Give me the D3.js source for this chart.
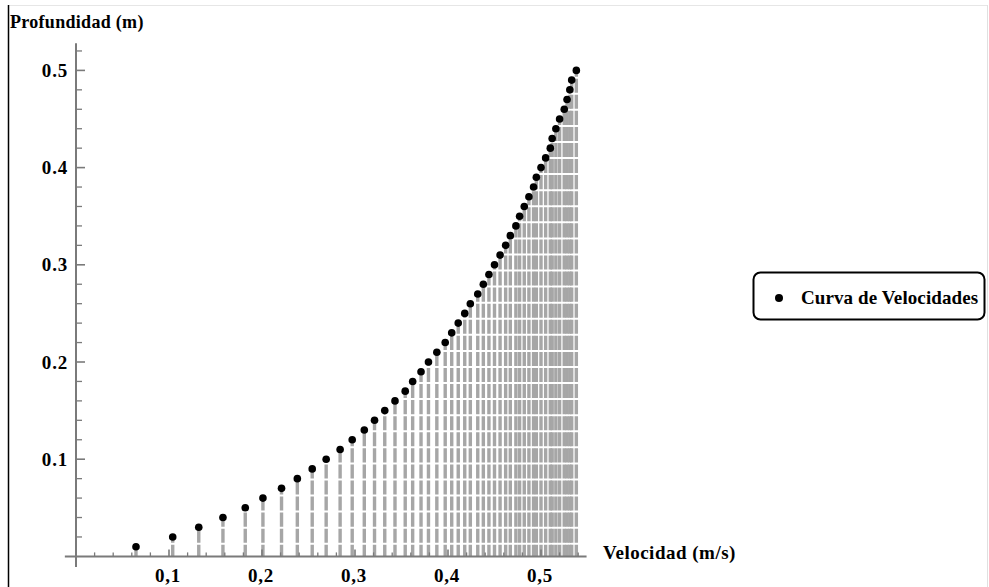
<!DOCTYPE html>
<html>
<head>
<meta charset="utf-8">
<script src="https://cdn.jsdelivr.net/npm/d3@7"></script>
<style>
  html, body { margin: 0; padding: 0; background: #fff; }
  svg { display: block; }
  text { font-family: "Liberation Serif", "DejaVu Serif", serif; font-weight: bold; fill: #000; }
</style>
</head>
<body>
<svg id="chart" width="989" height="587"></svg>
<script>
// Depth (m) of each measurement
const depths = [0.01,0.02,0.03,0.04,0.05,0.06,0.07,0.08,0.09,0.10,
  0.11,0.12,0.13,0.14,0.15,0.16,0.17,0.18,0.19,0.20,
  0.21,0.22,0.23,0.24,0.25,0.26,0.27,0.28,0.29,0.30,
  0.31,0.32,0.33,0.34,0.35,0.36,0.37,0.38,0.39,0.40,
  0.41,0.42,0.43,0.44,0.45,0.46,0.47,0.48,0.49,0.50];
// Velocity (m/s) at each depth
const velocities = [0.0645,0.104,0.132,0.158,0.182,0.201,0.221,0.238,0.254,0.269,
  0.284,0.297,0.310,0.321,0.332,0.343,0.354,0.362,0.371,0.379,
  0.388,0.397,0.404,0.411,0.418,0.424,0.432,0.438,0.444,0.450,
  0.456,0.462,0.467,0.473,0.477,0.482,0.487,0.492,0.495,0.500,
  0.505,0.510,0.512,0.516,0.520,0.525,0.528,0.531,0.533,0.538];
const xTicks = [0.1,0.2,0.3,0.4,0.5];
const xTickLabels = ["0,1","0,2","0,3","0,4","0,5"];
const yTicks = [0.1,0.2,0.3,0.4,0.5];
const yTickLabels = ["0.1","0.2","0.3","0.4","0.5"];
const xMinor = [0.02,0.04,0.06,0.08,0.12,0.14,0.16,0.18,0.22,0.24,0.26,0.28,0.32,0.34,0.36,0.38,0.42,0.44,0.46,0.48,0.52,0.54];
const yMinor = [0.02,0.04,0.06,0.08,0.12,0.14,0.16,0.18,0.22,0.24,0.26,0.28,0.32,0.34,0.36,0.38,0.42,0.44,0.46,0.48,0.52];
const xTitle = "Velocidad (m/s)";
const yTitle = "Profundidad (m)";
const seriesName = "Curva de Velocidades";

const data = depths.map((d, i) => ({ depth: d, vel: velocities[i] }));

const svg = d3.select("#chart");
const x = d3.scaleLinear().domain([0, 0.5]).range([76, 541]);
const y = d3.scaleLinear().domain([0, 0.5]).range([556.4, 70.4]);

// outer frame
svg.append("line").attr("x1", 8).attr("x2", 987).attr("y1", 5.5).attr("y2", 5.5)
  .attr("stroke", "#e6e6e6").attr("stroke-width", 1);
svg.append("line").attr("x1", 987.5).attr("x2", 987.5).attr("y1", 5).attr("y2", 587)
  .attr("stroke", "#e0e0e0").attr("stroke-width", 1);
svg.append("line").attr("x1", 8.5).attr("x2", 8.5).attr("y1", 5).attr("y2", 587)
  .attr("stroke", "#000").attr("stroke-width", 1.5);

// filling to axis
const fillG = svg.append("g");
fillG.selectAll("line").data(data).enter().append("line")
  .attr("x1", d => x(d.vel)).attr("x2", d => x(d.vel))
  .attr("y1", y(0)).attr("y2", d => y(d.depth))
  .attr("stroke", "#a6a6a6").attr("stroke-width", 3.4)
  .attr("stroke-dasharray", "14.07 2").attr("stroke-dashoffset", 2.4);

// axes
const axisColor = "#7a7a7a";
const gy = svg.append("g");
gy.append("line").attr("x1", x(0)).attr("x2", x(0)).attr("y1", y(0.528)).attr("y2", y(-0.011))
  .attr("stroke", axisColor).attr("stroke-width", 2);
gy.selectAll(".ymin").data(yMinor).enter().append("line")
  .attr("x1", x(0)).attr("x2", x(0) + 6).attr("y1", d => y(d)).attr("y2", d => y(d))
  .attr("stroke", axisColor).attr("stroke-width", 1.3);
gy.selectAll(".ymaj").data(yTicks).enter().append("line")
  .attr("x1", x(0)).attr("x2", x(0) + 9).attr("y1", d => y(d)).attr("y2", d => y(d))
  .attr("stroke", axisColor).attr("stroke-width", 1.6);
gy.selectAll("text").data(yTicks).enter().append("text")
  .attr("x", x(0) - 8).attr("y", d => y(d)).attr("dy", "0.35em")
  .attr("text-anchor", "end").attr("font-size", 19).attr("letter-spacing", 0.8)
  .text((d, i) => yTickLabels[i]);

const gx = svg.append("g");
gx.append("line").attr("x1", x(-0.012)).attr("x2", x(0.549)).attr("y1", y(0)).attr("y2", y(0))
  .attr("stroke", axisColor).attr("stroke-width", 2);
gx.selectAll(".xmin").data(xMinor).enter().append("line")
  .attr("x1", d => x(d)).attr("x2", d => x(d)).attr("y1", y(0)).attr("y2", y(0) - 4)
  .attr("stroke", axisColor).attr("stroke-width", 1.3);
gx.selectAll(".xmaj").data(xTicks).enter().append("line")
  .attr("x1", d => x(d)).attr("x2", d => x(d)).attr("y1", y(0)).attr("y2", y(0) - 7)
  .attr("stroke", axisColor).attr("stroke-width", 1.6);
gx.selectAll("text").data(xTicks).enter().append("text")
  .attr("x", d => x(d) - 1).attr("y", 582)
  .attr("text-anchor", "middle").attr("font-size", 19).attr("letter-spacing", 0.8)
  .text((d, i) => xTickLabels[i]);

// axis titles
svg.append("text").attr("x", 10).attr("y", 28).attr("font-size", 18).attr("letter-spacing", 0.3).text(yTitle);
svg.append("text").attr("x", 603).attr("y", 559).attr("font-size", 19).attr("letter-spacing", 0.5).text(xTitle);

// points
svg.append("g").selectAll("circle").data(data).enter().append("circle")
  .attr("cx", d => x(d.vel)).attr("cy", d => y(d.depth)).attr("r", 3.8)
  .attr("fill", "#000");

// legend
const lg = svg.append("g");
lg.append("rect").attr("x", 753.5).attr("y", 272.5).attr("width", 231).attr("height", 47)
  .attr("rx", 7).attr("fill", "#fff").attr("stroke", "#000").attr("stroke-width", 2);
lg.append("circle").attr("cx", 779).attr("cy", 298).attr("r", 4).attr("fill", "#000");
lg.append("text").attr("x", 801).attr("y", 304).attr("font-size", 19).attr("letter-spacing", 0.1).text(seriesName);
</script>
</body>
</html>
